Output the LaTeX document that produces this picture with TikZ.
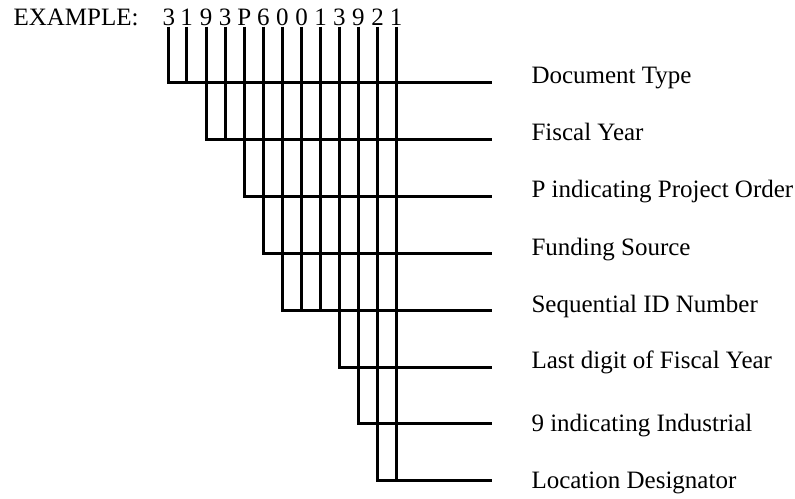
\documentclass[tikz,border=0pt]{standalone}
\usepackage{fontspec}
\setmainfont{Liberation Serif}
\begin{document}
\begin{tikzpicture}[x=1pt,y=-1pt,line width=3pt,
  dig/.style={anchor=base,inner sep=0pt,font=\fontsize{25}{30}\selectfont},
  lab/.style={anchor=base west,inner sep=0pt,font=\fontsize{25}{30}\selectfont}]
\useasboundingbox (0,0) rectangle (795,498);
\node[lab] (ex) at (12,25) {EXAMPLE:};
\foreach \n/\x/\t in {1/168.8/3,2/186.7/1,3/206/9,4/225/3,5/244.3/P,6/263.3/6,7/282.3/0,8/301.7/0,9/320.7/1,10/339.3/3,11/358.3/9,12/377.7/2,13/396/1}
  \node[dig] (d\n) at (\x,25) {\t};
% right ends of the horizontal lines
\coordinate (e1) at (491.5,82.5);
\coordinate (e2) at (491.5,139.3);
\coordinate (e3) at (491.5,196);
\coordinate (e4) at (491.5,253);
\coordinate (e5) at (491.5,310);
\coordinate (e6) at (491.5,367);
\coordinate (e7) at (491.5,423.5);
\coordinate (e8) at (491.5,480);
% labels
\node[lab] (l1) at (530,83) {Document Type};
\node[lab] (l2) at (530,140) {Fiscal Year};
\node[lab] (l3) at (530,197) {P indicating Project Order};
\node[lab] (l4) at (530,255) {Funding Source};
\node[lab] (l5) at (530,312) {Sequential ID Number};
\node[lab] (l6) at (530,368) {Last digit of Fiscal Year};
\node[lab] (l7) at (530,431) {9 indicating Industrial};
\node[lab] (l8) at (530,488) {Location Designator};
% connectors
\draw (d1.south) |- (e1);
\draw (d2.south) -- (d2.south |- e1);
\draw (d3.south) |- (e2);
\draw (d4.south) -- (d4.south |- e2);
\draw (d5.south) |- (e3);
\draw (d6.south) |- (e4);
\draw (d7.south) |- (e5);
\draw (d8.south) -- (d8.south |- e5);
\draw (d9.south) -- (d9.south |- e5);
\draw (d10.south) |- (e6);
\draw (d11.south) |- (e7);
\draw (d12.south) |- (e8);
\draw (d13.south) -- (d13.south |- e8);
\end{tikzpicture}
\end{document}
